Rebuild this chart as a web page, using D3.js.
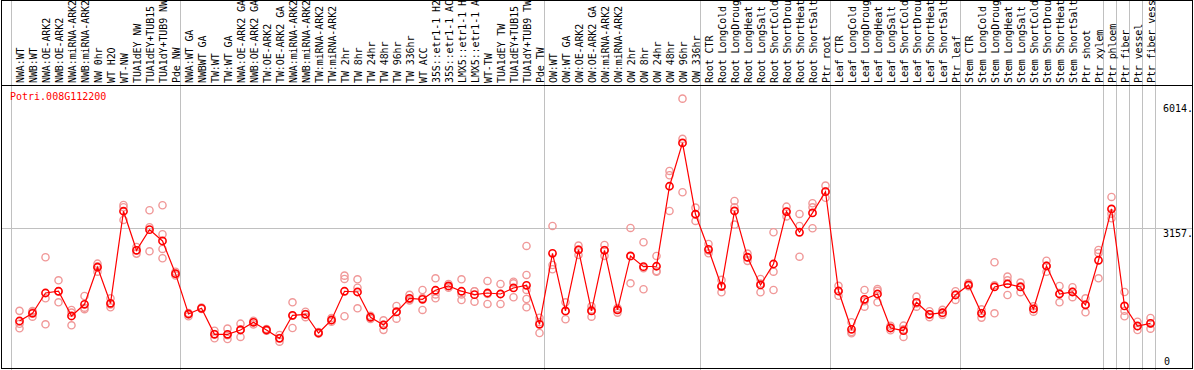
<!DOCTYPE html>
<html>
<head>
<meta charset="utf-8">
<script src="https://cdn.jsdelivr.net/npm/d3@7"></script>
<style>
  body { margin: 0; background: #fff; }
  text { font-family: "DejaVu Sans Mono", monospace; font-size: 10px; }
</style>
</head>
<body>
<script>
// Gene shown
var geneName = "Potri.008G112200";

// Samples, left to right
var categories = [
  "NWA:WT", "NWB:WT", "NWA:OE-ARK2", "NWB:OE-ARK2", "NWA:miRNA-ARK2", "NWB:miRNA-ARK2", "NW 0hr", "WT H2O", "WT-NW",
  "TUA1dEY NW", "TUA1dEY+TUB15 NW", "TUA1dY+TUB9 NW", "Pde NW",
  "NWA:WT GA", "NWBWT GA", "TW:WT", "TW:WT GA", "NWA:OE-ARK2 GA", "NWB:OE-ARK2 GA", "TW:OE-ARK2", "TW:OE-ARK2 GA",
  "NWA:miRNA-ARK2 GA", "NWB:miRNA-ARK2 GA", "TW:miRNA-ARK2", "TW:miRNA-ARK2 GA",
  "TW 2hr", "TW 8hr", "TW 24hr", "TW 48hr", "TW 96hr", "TW 336hr", "WT ACC",
  "35S::etr1-1 H2O", "35S::etr1-1 ACC", "LMX5::etr1-1 H2O", "LMX5::etr1-1 ACC", "WT-TW",
  "TUA1dEY TW", "TUA1dEY+TUB15 TW", "TUA1dY+TUB9 TW", "Pde TW",
  "OW:WT", "OW:WT GA", "OW:OE-ARK2", "OW:OE-ARK2 GA", "OW:miRNA-ARK2", "OW:miRNA-ARK2 GA",
  "OW 2hr", "OW 8hr", "OW 24hr", "OW 48hr", "OW 96hr", "OW 336hr",
  "Root CTR", "Root LongCold", "Root LongDrought", "Root LongHeat", "Root LongSalt",
  "Root ShortCold", "Root ShortDrought", "Root ShortHeat", "Root ShortSalt", "Ptr root",
  "Leaf CTR", "Leaf LongCold", "Leaf LongDrought", "Leaf LongHeat", "Leaf LongSalt",
  "Leaf ShortCold", "Leaf ShortDrought", "Leaf ShortHeat", "Leaf ShortSalt", "Ptr leaf",
  "Stem CTR", "Stem LongCold", "Stem LongDrought", "Stem LongHeat", "Stem LongSalt",
  "Stem ShortCold", "Stem ShortDrought", "Stem ShortHeat", "Stem ShortSalt", "Ptr shoot",
  "Ptr xylem", "Ptr phloem", "Ptr fiber", "Ptr vessel", "Ptr fiber vessel"
];

// Samples after which a separator line is drawn
var groupEnds = ["Pde NW", "Pde TW", "OW 336hr", "Ptr root", "Ptr leaf", "Ptr xylem", "Ptr phloem", "Ptr fiber", "Ptr vessel", "Ptr fiber vessel"];

// Mean expression per sample
var meanValues = [
  1115, 1285, 1732, 1770, 1225, 1483, 2299, 1505, 3533, 2673, 3128, 2878, 2158,
  1269, 1395, 822, 822, 917, 1086, 917, 734, 1240, 1263, 851, 1137,
  1770, 1754, 1197, 1027, 1314, 1615, 1593, 1792, 1887, 1770, 1695, 1732,
  1710, 1843, 1902, 1042,
  2607, 1336, 2680, 1336, 2673, 1358, 2548, 2312, 2321, 4084, 5038, 3467,
  2695, 1880, 3540, 2519, 1909, 2371, 3525, 3070, 3496, 3965,
  1776, 932, 1593, 1710, 961, 901, 1527, 1263, 1298, 1688,
  1909, 1285, 1865, 1931, 1865, 1380, 2327, 1710, 1754, 1468,
  2453, 3584, 1446, 1005, 1064
];

// Replicate values per sample
var replicateValues = [
  [1338, 1053, 954], [1336, 1210, 1310], [2519, 1615, 1042], [2012, 1527, 1771], [1358, 1020, 1300],
  [1666, 1408, 1375], [2378, 2202, 2318], [1615, 1417, 1480], [3672, 3341, 3621], [2746, 2600, 2673],
  [3555, 2651, 3180], [3665, 3026, 2702, 2497], [2200, 2120, 2150],
  [1290, 1220, 1260], [1410, 1380], [901, 734, 830], [946, 718, 800], [1056, 763, 930],
  [1120, 1040, 1100], [940, 900, 910], [807, 659, 740], [1527, 961, 1230], [1320, 1200, 1270],
  [870, 840, 845], [1180, 1100, 1130],
  [2114, 2041, 1219], [2034, 1849, 1395], [1230, 1160, 1200], [1130, 920, 1030], [1446, 1166, 1330],
  [1690, 1570, 1600], [1798, 1358, 1620], [2056, 1700, 1615], [1930, 1850, 1880], [2034, 1578, 1700],
  [1770, 1541, 1770], [1997, 1490, 1710], [1931, 1490, 1710], [1981, 1946, 1638],
  [2768, 2129, 1800, 1600, 1417], [1188, 851, 1090],
  [3209, 2349, 2255], [1527, 1153, 1330], [2775, 2570, 2690], [1440, 1210, 1360], [2790, 2550, 2680],
  [1400, 1300, 1370], [3165, 1946, 2540], [2850, 1814, 2280], [2548, 2202, 2215], [4421, 4326, 3540],
  [6014, 5127, 3952], [3612, 3319, 3470],
  [2812, 2607, 2670], [2020, 1748, 1870], [3760, 3620, 3238], [2600, 2440, 2520], [2040, 1748, 1940],
  [3070, 2202, 1798], [3634, 3420, 3520], [3474, 3209, 2532], [3709, 3620, 3158], [4097, 3830, 3970],
  [1890, 1670, 1770], [1087, 844, 870], [1798, 1430, 1550], [1820, 1527, 1780], [1010, 910, 960],
  [1012, 763, 930], [1651, 1430, 1500], [1330, 1200, 1260], [1360, 1250, 1290], [1770, 1580, 1700],
  [1950, 1880, 1900], [1370, 1190, 1290], [2409, 1285, 1900], [2092, 1688, 2010], [1960, 1750, 1880],
  [1440, 1320, 1380], [2444, 2200, 2330], [1887, 1527, 1720], [1860, 1640, 1760], [1615, 1307, 1480],
  [2680, 2610, 2056], [3848, 3480, 3379], [1754, 1340, 1219], [1100, 917, 1000], [1181, 946, 1060]
];

// Right side tick labels
var yTicks = [0, 3157, 6014];
var yMax = 6014 * 1.05;

// Longest label that fits above the header line
var maxLabelChars = 14;

var width = 1194, height = 370;

var svg = d3.select("body").append("svg").attr("width", width).attr("height", height);

// Scales
var x = d3.scaleBand().domain(categories).range([11.5, 11.5 + 13 * categories.length]).paddingInner(0);
var y = d3.scaleLinear().domain([0, yMax]).range([371.6, 85]);
function cx(c) { return x(c) + 8; }

// Vertical separators (full height)
var sepX = [x(categories[0])].concat(groupEnds.map(function(c) { return x(c) + x.bandwidth(); }));
svg.selectAll("line.sep").data(sepX).enter().append("line")
    .attr("class", "sep")
    .attr("x1", function(d) { return d; }).attr("x2", function(d) { return d; })
    .attr("y1", 0).attr("y2", height)
    .attr("stroke", "#c0c0c0").attr("stroke-width", 1);

// Middle horizontal grid line
svg.append("line")
    .attr("x1", 1).attr("x2", width - 1)
    .attr("y1", Math.round(y(yTicks[1])) + 0.5).attr("y2", Math.round(y(yTicks[1])) + 0.5)
    .attr("stroke", "#c0c0c0");

// Borders
svg.append("rect").attr("x", 1.5).attr("y", 0.5).attr("width", width - 3).attr("height", 368)
    .attr("fill", "none").attr("stroke", "#000");
svg.append("line").attr("x1", 1).attr("x2", width - 1).attr("y1", 85.5).attr("y2", 85.5).attr("stroke", "#000");

// Sample labels (rotated, cut to the header height)
svg.selectAll("text.cat").data(categories).enter().append("text")
    .attr("class", "cat")
    .attr("transform", function(d) { return "translate(" + (x(d) + 12.5) + ",83) rotate(-90)"; })
    .attr("fill", "#000")
    .style("letter-spacing", "-0.1px")
    .text(function(d) { return d.slice(0, maxLabelChars); });

// Gene name
svg.append("text").attr("x", 10).attr("y", 99.5).attr("fill", "#ff0000").text(geneName);

// Tick labels on the right
var tickDy = [-6.6, 8.7, 13.1];
svg.selectAll("text.tick").data(yTicks).enter().append("text")
    .attr("class", "tick")
    .attr("x", function(d) { return d === 0 ? 1164 : 1163; })
    .attr("y", function(d, i) { return y(d) + tickDy[i]; })
    .attr("fill", "#000")
    .text(function(d) { return d === 0 ? "0" : d + "."; });

// Replicate points
var reps = [];
categories.forEach(function(c, i) {
    replicateValues[i].forEach(function(v) { reps.push({ c: c, v: v }); });
});
svg.selectAll("circle.rep").data(reps).enter().append("circle")
    .attr("class", "rep")
    .attr("cx", function(d) { return cx(d.c); })
    .attr("cy", function(d) { return y(d.v); })
    .attr("r", 3.6)
    .attr("fill", "none").attr("stroke", "#f09898").attr("stroke-width", 1.4);

// Mean line
var line = d3.line().x(function(d, i) { return cx(categories[i]); }).y(function(d) { return y(d); });
svg.append("path").datum(meanValues).attr("d", line)
    .attr("fill", "none").attr("stroke", "#ff0000").attr("stroke-width", 1.2);

// Mean points
svg.selectAll("circle.mean").data(meanValues).enter().append("circle")
    .attr("class", "mean")
    .attr("cx", function(d, i) { return cx(categories[i]); })
    .attr("cy", function(d) { return y(d); })
    .attr("r", 3.6)
    .attr("fill", "none").attr("stroke", "#ff0000").attr("stroke-width", 1.6);
</script>
</body>
</html>
